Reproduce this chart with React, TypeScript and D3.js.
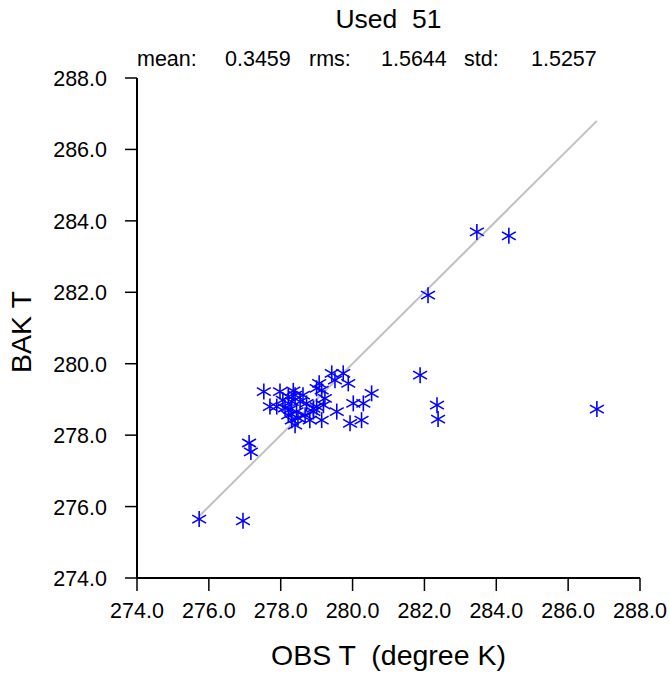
import React from "react";
import * as d3 from "d3";

const obsT: number[] = [
  275.73, 276.95, 277.12, 277.17, 283.46, 284.35, 282.10, 281.88, 282.35, 282.38, 286.80,
  277.53, 277.98, 278.35, 277.70, 277.89, 278.21, 278.31, 278.54, 278.72, 279.00,
  278.21, 278.44, 278.40, 278.68, 278.91, 278.12, 279.00, 279.42, 279.74, 279.51,
  279.88, 279.07, 279.14, 280.53, 280.02, 280.30, 280.25, 279.93, 279.56, 279.14,
  279.19, 279.23, 278.91, 278.40, 278.26, 278.48, 278.06, 278.62, 278.81, 278.31,
];
const bakT: number[] = [
  275.65, 275.60, 277.78, 277.53, 283.69, 283.58, 281.92, 279.68, 278.84, 278.45, 278.73,
  279.22, 279.22, 279.24, 278.80, 278.80, 279.08, 278.94, 278.94, 278.89, 278.80,
  278.56, 278.66, 278.28, 278.56, 278.66, 278.76, 279.31, 279.73, 279.73, 279.54,
  279.45, 279.45, 279.26, 279.17, 278.89, 278.89, 278.42, 278.33, 278.66, 278.42,
  278.84, 279.03, 278.75, 279.12, 278.72, 278.48, 278.98, 279.12, 278.42, 278.42,
];
const xTicks: number[] = [274, 276, 278, 280, 282, 284, 286, 288];
const yTicks: number[] = [274, 276, 278, 280, 282, 284, 286, 288];
const titleText = "Used  51";
const statLabels: string[] = ["mean:", "0.3459", "rms:", "1.5644", "std:", "1.5257"];
const xLabel = "OBS T  (degree K)";
const yLabel = "BAK T";

const W = 669;
const H = 677;
const L = 137, R = 640, T = 78, B = 578;
const font = "'Liberation Sans', Arial, Helvetica, sans-serif";

export default function App() {
  const x = d3.scaleLinear().domain([274, 288]).range([L, R]);
  const y = d3.scaleLinear().domain([274, 288]).range([B, T]);
  const lo = d3.min(obsT) as number;
  const hi = d3.max(obsT) as number;
  const statX = [137, 225, 309, 381, 464, 531];
  const ms = 8;
  const arms = [90, 30, -30].map((a) => (a * Math.PI) / 180);
  return (
    <svg width={W} height={H} style={{ position: "absolute", left: 0, top: 0, whiteSpace: "pre" }} fontFamily={font}>
      <rect x={0} y={0} width={W} height={H} fill="#fff" />
      <text x={(L + R) / 2} y={28} textAnchor="middle" fontSize={26.5} style={{ whiteSpace: "pre" }}>{titleText}</text>
      {statLabels.map((s, i) => (
        <text key={i} x={statX[i]} y={66} fontSize={21.5}>{s}</text>
      ))}
      <line x1={x(lo)} y1={y(lo)} x2={x(hi)} y2={y(hi)} stroke="#c0c0c0" strokeWidth={2} />
      <line x1={L} y1={T} x2={L} y2={B} stroke="#000" strokeWidth={2} />
      <line x1={L} y1={B} x2={R} y2={B} stroke="#000" strokeWidth={2} />
      {xTicks.map((t) => (
        <g key={"x" + t}>
          <line x1={x(t)} y1={B} x2={x(t)} y2={B + 13} stroke="#000" strokeWidth={1.5} />
          <text x={x(t)} y={B + 40} textAnchor="middle" fontSize={21.5}>{t.toFixed(1)}</text>
        </g>
      ))}
      {yTicks.map((t) => (
        <g key={"y" + t}>
          <line x1={L - 12} y1={y(t)} x2={L} y2={y(t)} stroke="#000" strokeWidth={1.5} />
          <text x={L - 30} y={y(t) + 8} textAnchor="end" fontSize={21.5}>{t.toFixed(1)}</text>
        </g>
      ))}
      <text x={(L + R) / 2} y={665} textAnchor="middle" fontSize={28.5} style={{ whiteSpace: "pre" }}>{xLabel}</text>
      <text transform={`translate(31, ${(T + B) / 2 + 4}) rotate(-90)`} textAnchor="middle" fontSize={28.5}>{yLabel}</text>
      {obsT.map((o, i) => (
        <g key={i} transform={`translate(${x(o)}, ${y(bakT[i])})`}>
          {arms.map((a, j) => (
            <line key={j} x1={-ms * Math.cos(a)} y1={ms * Math.sin(a)} x2={ms * Math.cos(a)} y2={-ms * Math.sin(a)} stroke="#0000ff" strokeWidth={1.6} />
          ))}
        </g>
      ))}
    </svg>
  );
}
